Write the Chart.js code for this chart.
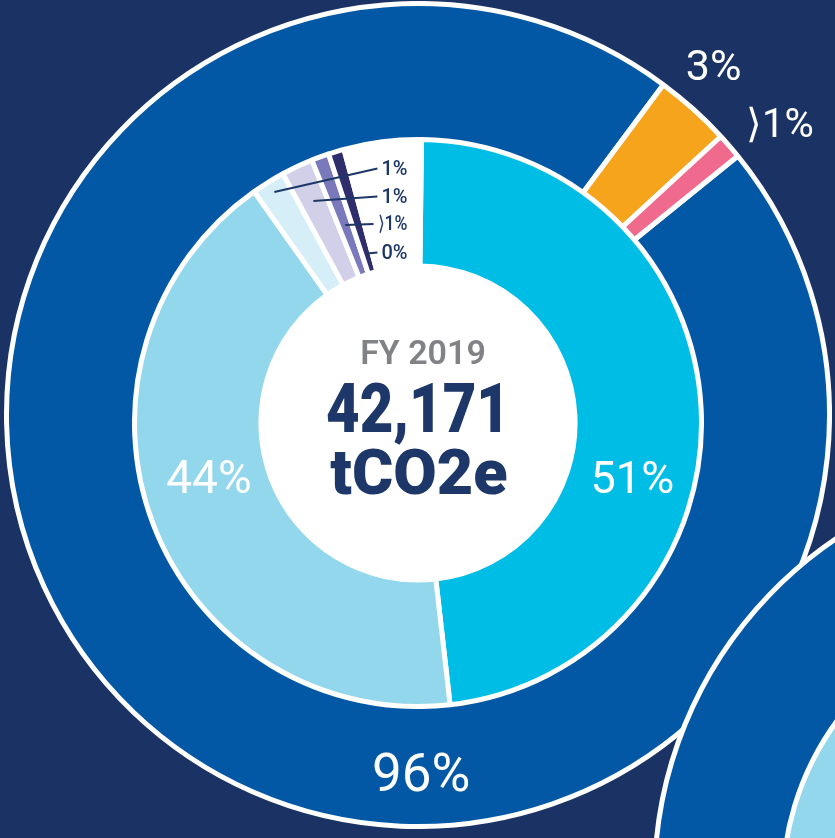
<!DOCTYPE html>
<html>
<head>
<meta charset="utf-8">
<title>FY 2019 emissions</title>
<script src="https://cdn.jsdelivr.net/npm/chart.js@4.4.1/dist/chart.umd.min.js"></script>
<style>
  html, body { margin: 0; padding: 0; overflow: hidden; }
  body { width: 835px; height: 838px; background: #1a3364; position: relative; }
  canvas { position: absolute; }
</style>
</head>
<body>
<canvas id="outer1" width="828" height="828" style="left:4px;top:1px"></canvas>
<canvas id="inner1" width="572" height="572" style="left:132px;top:137px"></canvas>
<canvas id="outer2" width="828" height="828" style="left:652px;top:466px"></canvas>
<canvas id="inner2" width="572" height="572" style="left:780px;top:602px"></canvas>
<script>
// outer ring
const outerCategories = ['Main source', 'Second source', 'Third source'];
const outerValues = [96, 3, 1];
const outerLabels = ['96%', '3%', '\u27E91%'];

// inner ring (last entry is the unlabelled white gap)
const innerCategories = ['Part 1', 'Part 2', 'Part 3', 'Part 4', 'Part 5', 'Part 6', 'Gap'];
const innerValues = [48, 42, 1.9, 1.8, 1, 0.9, 4.4];
const innerLabels = ['51%', '44%', '1%', '1%', '\u27E91%', '0%', ''];

const centerYear = 'FY 2019';
const centerTotal = '42,171';
const centerUnit = 'tCO2e';

const outerColors = ['#0358a5', '#f7a41d', '#f06a8e'];
const innerColors = ['#00bde6', '#93d7ec', '#d5eef8', '#d1d0e8', '#7a79bb', '#2e2e6c', '#ffffff'];
const navy = '#1d3768';
const FONT = 'Roboto, "Open Sans", sans-serif';

function polar(cx, cy, deg, r) {
  const a = deg * Math.PI / 180;
  return { x: cx + r * Math.sin(a), y: cy - r * Math.cos(a) };
}

// white labels placed around the ring (angle clockwise from top, radius to text centre)
const outerSpots = [
  { angle: 179.5, radius: 357, size: 53 },
  { angle: 40.2, radius: 458, size: 43 },
  { angle: 51.1, radius: 465, size: 40 }
];
const innerSpots = [
  { angle: 104.1, radius: 221, size: 45 },
  { angle: 255.5, radius: 216, size: 46 }
];
// small callouts for the thin slices
const calloutRadius = [272, 245.5, 211, 177];
const calloutRowY = [-254.5, -226.5, -199, -170.5];
const calloutRight = -10.5;

function drawSpot(ctx, cx, cy, spot, text) {
  const p = polar(cx, cy, spot.angle, spot.radius);
  ctx.font = '400 ' + spot.size + 'px ' + FONT;
  ctx.fillText(text, p.x, p.y + spot.size * 0.355);
}

const outerLabelPlugin = {
  id: 'outerText',
  afterDatasetsDraw(chart, args, opts) {
    if (!opts.show) return;
    const ctx = chart.ctx;
    const arc = chart.getDatasetMeta(0).data[0];
    ctx.save();
    ctx.fillStyle = '#ffffff';
    ctx.textAlign = 'center';
    ctx.textBaseline = 'alphabetic';
    outerSpots.forEach((s, i) => drawSpot(ctx, arc.x, arc.y, s, outerLabels[i]));
    ctx.restore();
  }
};

const innerLabelPlugin = {
  id: 'innerText',
  beforeDatasetsDraw(chart) {
    const ctx = chart.ctx;
    const arc = chart.getDatasetMeta(0).data[0];
    ctx.save();
    ctx.fillStyle = '#ffffff';
    ctx.beginPath();
    ctx.arc(arc.x, arc.y, arc.innerRadius + 1, 0, Math.PI * 2);
    ctx.fill();
    ctx.restore();
  },
  afterDatasetsDraw(chart, args, opts) {
    if (!opts.show) return;
    const ctx = chart.ctx;
    const arcs = chart.getDatasetMeta(0).data;
    const cx = arcs[0].x, cy = arcs[0].y;
    ctx.save();
    ctx.fillStyle = '#ffffff';
    ctx.textAlign = 'center';
    innerSpots.forEach((s, i) => drawSpot(ctx, cx, cy, s, innerLabels[i]));

    // callouts
    ctx.font = '500 20px ' + FONT;
    ctx.textAlign = 'right';
    ctx.textBaseline = 'middle';
    ctx.strokeStyle = navy;
    ctx.fillStyle = navy;
    ctx.lineWidth = 2;
    for (let k = 0; k < 4; k++) {
      const el = arcs[k + 2];
      const mid = (el.startAngle + el.endAngle) / 2;
      const sx = cx + calloutRadius[k] * Math.cos(mid);
      const sy = cy + calloutRadius[k] * Math.sin(mid);
      const text = innerLabels[k + 2];
      const tx = cx + calloutRight;
      const ty = cy + calloutRowY[k];
      const w = Math.min(ctx.measureText(text).width, 30);
      ctx.beginPath();
      ctx.moveTo(sx, sy);
      ctx.lineTo(tx - w - 4, ty);
      ctx.stroke();
      ctx.fillText(text, tx, ty + 1, 30);
    }

    // centre text
    ctx.textAlign = 'center';
    ctx.textBaseline = 'alphabetic';
    ctx.fillStyle = '#808285';
    ctx.font = '600 34px ' + FONT;
    ctx.fillText(centerYear, cx + 5, cy - 59, 128);
    ctx.fillStyle = navy;
    ctx.font = '900 68px ' + FONT;
    ctx.fillText(centerTotal, cx, cy + 9, 184);
    ctx.font = '900 63px ' + FONT;
    ctx.fillText(centerUnit, cx + 1, cy + 71, 179);
    ctx.restore();
  }
};

function ring(id, categories, values, colors, rotation, cutout, plugin, showText) {
  const opts = {};
  opts[plugin.id] = { show: showText };
  return new Chart(document.getElementById(id), {
    type: 'doughnut',
    data: {
      labels: categories,
      datasets: [{
        data: values,
        backgroundColor: colors,
        borderColor: '#ffffff',
        borderWidth: 5,
        hoverBorderWidth: 5,
        hoverOffset: 0,
        rotation: rotation
      }]
    },
    options: {
      responsive: false,
      devicePixelRatio: 1,
      animation: false,
      events: [],
      cutout: cutout,
      layout: { padding: 0 },
      plugins: Object.assign({
        legend: { display: false },
        tooltip: { enabled: false }
      }, opts)
    },
    plugins: [plugin]
  });
}

ring('outer1', outerCategories, outerValues, outerColors, 51, '64%', outerLabelPlugin, true);
ring('inner1', innerCategories, innerValues, innerColors, 0.7, '55.4%', innerLabelPlugin, true);
// neighbouring chart, mostly cut off at the bottom right
ring('outer2', outerCategories, outerValues, outerColors, 51, '64%', outerLabelPlugin, false);
ring('inner2', innerCategories, innerValues, innerColors, 0.7, '55.4%', innerLabelPlugin, false);
</script>
</body>
</html>
